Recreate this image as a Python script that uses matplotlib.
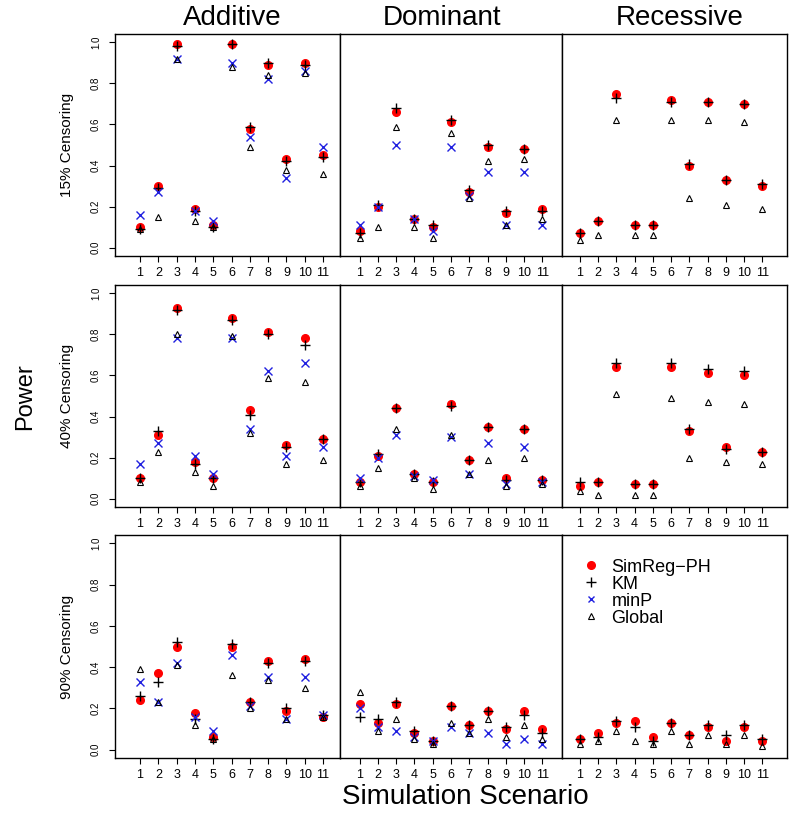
import numpy as np
import matplotlib
matplotlib.use('Agg')
import matplotlib.pyplot as plt

plt.rcParams['font.family'] = ['Liberation Sans', 'DejaVu Sans']

'''
power values read off the figure, one list per model: additive, dominant, recessive
'''
scenario = [1, 2, 3, 4, 5, 6, 7, 8, 9, 10, 11]
models = ['Additive', 'Dominant', 'Recessive']
censoring = ['15% Censoring', '40% Censoring', '90% Censoring']

sim_15 = [[0.10, 0.30, 0.99, 0.19, 0.11, 0.99, 0.58, 0.89, 0.43, 0.90, 0.45],
          [0.08, 0.20, 0.66, 0.14, 0.10, 0.61, 0.27, 0.49, 0.17, 0.48, 0.19],
          [0.07, 0.13, 0.75, 0.11, 0.11, 0.72, 0.40, 0.71, 0.33, 0.70, 0.30]]
km_15 = [[0.09, 0.29, 0.98, 0.18, 0.10, 0.99, 0.59, 0.90, 0.42, 0.89, 0.44],
         [0.07, 0.21, 0.68, 0.14, 0.11, 0.62, 0.28, 0.50, 0.18, 0.48, 0.18],
         [0.07, 0.13, 0.73, 0.11, 0.11, 0.71, 0.41, 0.71, 0.33, 0.70, 0.31]]
minp_15 = [[0.16, 0.27, 0.92, 0.18, 0.13, 0.90, 0.54, 0.82, 0.34, 0.86, 0.49],
           [0.11, 0.20, 0.50, 0.14, 0.08, 0.49, 0.25, 0.37, 0.11, 0.37, 0.11],
           None]
glob_15 = [[0.09, 0.15, 0.92, 0.13, 0.10, 0.88, 0.49, 0.84, 0.38, 0.85, 0.36],
           [0.05, 0.10, 0.59, 0.10, 0.05, 0.56, 0.24, 0.42, 0.11, 0.43, 0.14],
           [0.04, 0.06, 0.62, 0.06, 0.06, 0.62, 0.24, 0.62, 0.21, 0.61, 0.19]]

sim_40 = [[0.10, 0.31, 0.93, 0.18, 0.10, 0.88, 0.43, 0.81, 0.26, 0.78, 0.29],
          [0.08, 0.21, 0.44, 0.12, 0.08, 0.46, 0.19, 0.35, 0.10, 0.34, 0.09],
          [0.06, 0.08, 0.64, 0.07, 0.07, 0.64, 0.33, 0.61, 0.25, 0.60, 0.23]]
km_40 = [[0.10, 0.33, 0.92, 0.17, 0.10, 0.87, 0.41, 0.80, 0.25, 0.75, 0.29],
         [0.08, 0.22, 0.44, 0.12, 0.08, 0.45, 0.19, 0.35, 0.09, 0.34, 0.09],
         [0.08, 0.08, 0.66, 0.07, 0.07, 0.66, 0.34, 0.63, 0.24, 0.62, 0.23]]
minp_40 = [[0.17, 0.27, 0.78, 0.21, 0.12, 0.78, 0.34, 0.62, 0.21, 0.66, 0.25],
           [0.10, 0.20, 0.31, 0.11, 0.09, 0.30, 0.12, 0.27, 0.07, 0.25, 0.08],
           None]
glob_40 = [[0.08, 0.23, 0.80, 0.13, 0.06, 0.79, 0.32, 0.59, 0.17, 0.57, 0.19],
           [0.06, 0.15, 0.34, 0.10, 0.05, 0.31, 0.12, 0.19, 0.06, 0.20, 0.07],
           [0.04, 0.02, 0.51, 0.02, 0.02, 0.49, 0.20, 0.47, 0.18, 0.46, 0.17]]

sim_90 = [[0.24, 0.37, 0.50, 0.18, 0.06, 0.50, 0.23, 0.43, 0.19, 0.44, 0.16],
          [0.22, 0.13, 0.22, 0.08, 0.04, 0.21, 0.12, 0.19, 0.10, 0.19, 0.10],
          [0.05, 0.08, 0.13, 0.14, 0.06, 0.13, 0.07, 0.11, 0.04, 0.11, 0.04]]
km_90 = [[0.26, 0.33, 0.52, 0.15, 0.05, 0.51, 0.23, 0.42, 0.20, 0.43, 0.17],
         [0.16, 0.15, 0.23, 0.09, 0.04, 0.21, 0.12, 0.19, 0.11, 0.17, 0.08],
         [0.05, 0.06, 0.14, 0.11, 0.04, 0.13, 0.07, 0.12, 0.07, 0.12, 0.05]]
minp_90 = [[0.33, 0.23, 0.42, 0.16, 0.09, 0.46, 0.21, 0.35, 0.15, 0.35, 0.17],
           [0.20, 0.11, 0.09, 0.06, 0.04, 0.11, 0.08, 0.08, 0.03, 0.05, 0.03],
           None]
glob_90 = [[0.39, 0.23, 0.41, 0.12, 0.05, 0.36, 0.20, 0.34, 0.15, 0.30, 0.16],
           [0.28, 0.09, 0.15, 0.05, 0.03, 0.13, 0.08, 0.15, 0.06, 0.12, 0.05],
           [0.03, 0.04, 0.09, 0.04, 0.03, 0.09, 0.03, 0.07, 0.03, 0.07, 0.02]]

sim_all = [sim_15, sim_40, sim_90]
km_all = [km_15, km_40, km_90]
minp_all = [minp_15, minp_40, minp_90]
glob_all = [glob_15, glob_40, glob_90]

'''
panel layout in pixels (800 x 816 figure)
'''
W, H = 800.0, 816.0
col_px = [(115, 340), (340, 562), (562, 787)]
row_px = [(34, 256), (285, 507), (535, 758)]
col_xlim = [(-0.37, 11.93), (-0.08, 12.08), (0.03, 12.35)]

fig = plt.figure(figsize=(8, 8.16), dpi=100)
handles = None

for r in range(3):
    for c in range(3):
        x0, x1 = col_px[c]
        y0, y1 = row_px[r]
        ax = fig.add_axes([x0 / W, 1 - y1 / H, (x1 - x0) / W, (y1 - y0) / H])
        lines = []
        lines += ax.plot(scenario, sim_all[r][c], 'o', color='red', ms=5.5, mec='red', label='SimReg\u2212PH')
        lines += ax.plot(scenario, km_all[r][c], '+', color='black', ms=7, mew=1.0, label='KM')
        if minp_all[r][c] is not None:
            lines += ax.plot(scenario, minp_all[r][c], 'x', color='#2020e0', ms=6, mew=1.0, label='minP')
        lines += ax.plot(scenario, glob_all[r][c], '^', mfc='none', mec='black', ms=5, mew=0.8, label='Global')
        if handles is None:
            handles = lines
        ax.set_xlim(col_xlim[c])
        ax.set_ylim(-0.04, 1.04)
        ax.set_xticks(scenario)
        ax.set_xticklabels([str(s) for s in scenario], fontsize=9)
        ax.tick_params(axis='x', length=4, width=0.8, pad=4)
        for sp in ax.spines.values():
            sp.set_linewidth(1.0)
        if c == 0:
            ax.set_yticks([0.0, 0.2, 0.4, 0.6, 0.8, 1.0])
            ax.set_yticklabels(['0.0', '0.2', '0.4', '0.6', '0.8', '1.0'], fontsize=7,
                               rotation=90, va='center')
            ax.tick_params(axis='y', length=4, width=0.8, pad=6)
            ax.set_ylabel(censoring[r], fontsize=11, labelpad=12)
        else:
            ax.set_yticks([])
        if r == 2 and c == 2:
            leg = ax.legend(handles=handles, loc='upper left', bbox_to_anchor=(0.04, 0.935),
                            frameon=False, fontsize=13, handlelength=1.2, handletextpad=0.55,
                            labelspacing=0.0, borderpad=0)
            for h in leg.legend_handles:
                if h.get_label() == 'minP':
                    h.set_markersize(4.5)

title_x = [232, 442, 680]
for c in range(3):
    fig.text(title_x[c] / W, 1 - 18 / H, models[c], fontsize=20, ha='center', va='center')

fig.text(25 / W, 1 - 397 / H, 'Power', fontsize=17, rotation=90, ha='center', va='center')
fig.text(465 / W, 1 - 797 / H, 'Simulation Scenario', fontsize=20, ha='center', va='center')

plt.savefig('out.png', dpi=100)
